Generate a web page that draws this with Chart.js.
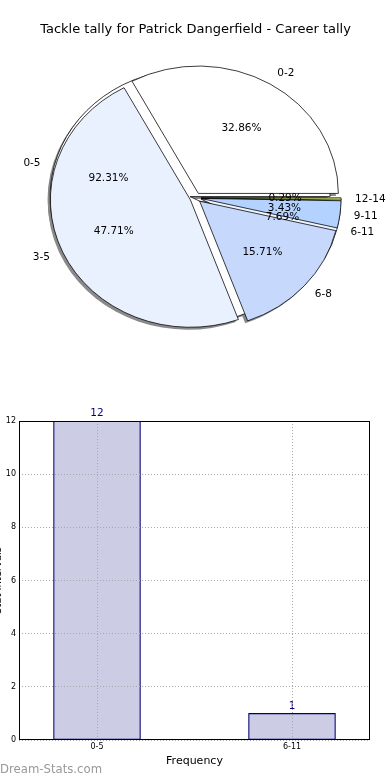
<!DOCTYPE html>
<html>
<head>
<meta charset="utf-8">
<script src="https://cdn.jsdelivr.net/npm/chart.js@4.4.0/dist/chart.umd.min.js"></script>
<style>
  body { margin: 0; background: #fff; width: 390px; height: 780px; position: relative; overflow: hidden; font-family: 'DejaVu Sans', sans-serif; }
  #pie { position: absolute; left: 0; top: 0; }
  #bar { position: absolute; left: -10px; top: 395px; }
  .brand { position: absolute; left: 0; top: 762px; color: #999999; font-size: 11.7px; }
</style>
</head>
<body>
<canvas id="pie" width="390" height="370"></canvas>
<canvas id="bar" width="400" height="385"></canvas>
<div class="brand">Dream-Stats.com</div>
<script>
// Datos
const pieLabels = ['0-2', '3-5', '6-8', '9-11', '12-14'];
const pieValues = [32.86, 47.71, 15.71, 3.43, 0.29];
const groupLabels = ['0-5', '6-11'];
const groupValues = [92.31, 7.69];
const barLabels = ['0-5', '6-11'];
const barValues = [12, 1];

const FONT = "'DejaVu Sans', sans-serif";
const R = 140;          // radio horizontal en px
const SQUASH = 0.91;    // el pie original sale achatado
const EXPLODE = 0.04;

function pieCenter(chart) {
    const a = chart.chartArea;
    return { cx: (a.left + a.right) / 2, cy: (a.top + a.bottom) / 2 };
}

// Los dos pies se dibujan encima uno del otro, con sombra y separados del centro
const pieLook = {
    id: 'pieLook',
    afterUpdate(chart) {
        const { cx, cy } = pieCenter(chart);
        chart.data.datasets.forEach((ds, di) => {
            chart.getDatasetMeta(di).data.forEach(arc => {
                const mid = (arc.startAngle + arc.endAngle) / 2;
                arc.x = cx + Math.cos(mid) * EXPLODE * R;
                arc.y = cy + Math.sin(mid) * EXPLODE * R;
                arc.innerRadius = 0;
                arc.outerRadius = R;
            });
        });
    },
    beforeDatasetsDraw(chart) {
        const ctx = chart.ctx;
        const { cx, cy } = pieCenter(chart);
        ctx.save();
        ctx.translate(cx, cy);
        ctx.scale(1, -SQUASH);
        ctx.translate(-cx, -cy);
        ctx.fillStyle = '#8a8a8a';
        chart.data.datasets.forEach((ds, di) => {
            chart.getDatasetMeta(di).data.forEach(arc => {
                const x = arc.x - 2.5, y = arc.y - 2.5 / SQUASH;
                ctx.beginPath();
                ctx.moveTo(x, y);
                ctx.arc(x, y, R, arc.startAngle, arc.endAngle);
                ctx.closePath();
                ctx.fill();
            });
        });
    },
    afterDatasetsDraw(chart) {
        chart.ctx.restore();
    },
    afterDraw(chart) {
        const ctx = chart.ctx;
        const { cx, cy } = pieCenter(chart);
        ctx.save();
        ctx.font = `10.5px ${FONT}`;
        ctx.fillStyle = '#000';
        ctx.textBaseline = 'middle';
        chart.data.datasets.forEach((ds, di) => {
            chart.getDatasetMeta(di).data.forEach((arc, i) => {
                const mid = (arc.startAngle + arc.endAngle) / 2;
                const at = k => [arc.x + Math.cos(mid) * k * R, cy - SQUASH * (arc.y + Math.sin(mid) * k * R - cy)];
                const [lx, ly] = at(1.1);
                ctx.textAlign = lx > cx ? 'left' : 'right';
                ctx.fillText(ds.names[i], lx, ly);
                const [px, py] = at(0.6);
                ctx.textAlign = 'center';
                ctx.fillText(ds.data[i].toFixed(2) + '%', px, py);
            });
        });
        ctx.restore();
    }
};

new Chart(document.getElementById('pie'), {
    type: 'pie',
    data: {
        labels: pieLabels,
        datasets: [
            { data: pieValues, names: pieLabels,
              backgroundColor: ['#ffffff', '#eaf1fe', '#c6d9fd', '#b3d2ff', '#cfe36a'],
              borderColor: '#000', borderWidth: 0.8 },
            { data: groupValues, names: groupLabels,
              backgroundColor: ['#ffffff', '#eef4ff'],
              borderColor: '#000', borderWidth: 0.8 }
        ]
    },
    options: {
        responsive: false,
        animation: false,
        rotation: 90,
        layout: { padding: { top: 12, left: 1, right: 0, bottom: 22 } },
        plugins: {
            legend: { display: false },
            tooltip: { enabled: false },
            title: {
                display: true,
                text: 'Tackle tally for Patrick Dangerfield - Career tally',
                color: '#000',
                font: { family: FONT, size: 13, weight: 'normal' },
                padding: { top: 10, bottom: 10 }
            }
        }
    },
    plugins: [pieLook]
});

// Caja de ejes y etiquetas de valor sobre las barras
const barExtras = {
    id: 'barExtras',
    afterDatasetsDraw(chart) {
        const ctx = chart.ctx;
        ctx.save();
        ctx.font = `10.5px ${FONT}`;
        ctx.fillStyle = '#000080';
        ctx.textAlign = 'center';
        ctx.textBaseline = 'bottom';
        chart.getDatasetMeta(0).data.forEach((bar, i) => {
            ctx.fillText(String(barValues[i]), bar.x, bar.y - 2);
        });
        ctx.restore();
    },
    afterDraw(chart) {
        const a = chart.chartArea;
        const ctx = chart.ctx;
        ctx.save();
        ctx.strokeStyle = '#000';
        ctx.lineWidth = 1;
        ctx.strokeRect(Math.round(a.left) + 0.5, Math.round(a.top) + 0.5,
            Math.round(a.right - a.left) - 1, Math.round(a.bottom - a.top) - 1);
        ctx.restore();
    }
};

new Chart(document.getElementById('bar'), {
    type: 'bar',
    data: {
        datasets: [{
            data: barValues.map((v, i) => ({ x: i, y: v })),
            backgroundColor: '#cccce5',
            borderColor: '#00007a',
            borderWidth: 1.2,
            borderSkipped: false,
            barThickness: 87
        }]
    },
    options: {
        responsive: false,
        animation: false,
        layout: { padding: { top: 26, right: 20, left: 0, bottom: 0 } },
        plugins: { legend: { display: false }, tooltip: { enabled: false } },
        scales: {
            x: {
                type: 'linear',
                min: -0.4,
                max: 1.4,
                offset: false,
                afterBuildTicks: s => { s.ticks = barLabels.map((_, i) => ({ value: i })); },
                afterFit: s => { s.height = 40; },
                ticks: { callback: v => barLabels[v], font: { family: FONT, size: 8 }, color: '#000', padding: 2, maxRotation: 0 },
                grid: { color: '#a8a8a8', drawTicks: false, offset: false, z: 1 },
                border: { display: false, dash: [1, 2] },
                title: { display: true, text: 'Frequency', color: '#000', font: { family: FONT, size: 11 }, padding: { top: 0, bottom: 12 } }
            },
            y: {
                min: 0,
                max: 12,
                afterFit: s => { s.width = 29; },
                ticks: { stepSize: 2, font: { family: FONT, size: 8 }, color: '#000', padding: 3 },
                grid: { color: '#a8a8a8', drawTicks: false, z: 1 },
                border: { display: false, dash: [1, 2] },
                title: { display: true, text: 'Stat Intervals', color: '#000', font: { family: FONT, size: 10 }, padding: { top: 2, bottom: 0 } }
            }
        }
    },
    plugins: [barExtras]
});
</script>
</body>
</html>
